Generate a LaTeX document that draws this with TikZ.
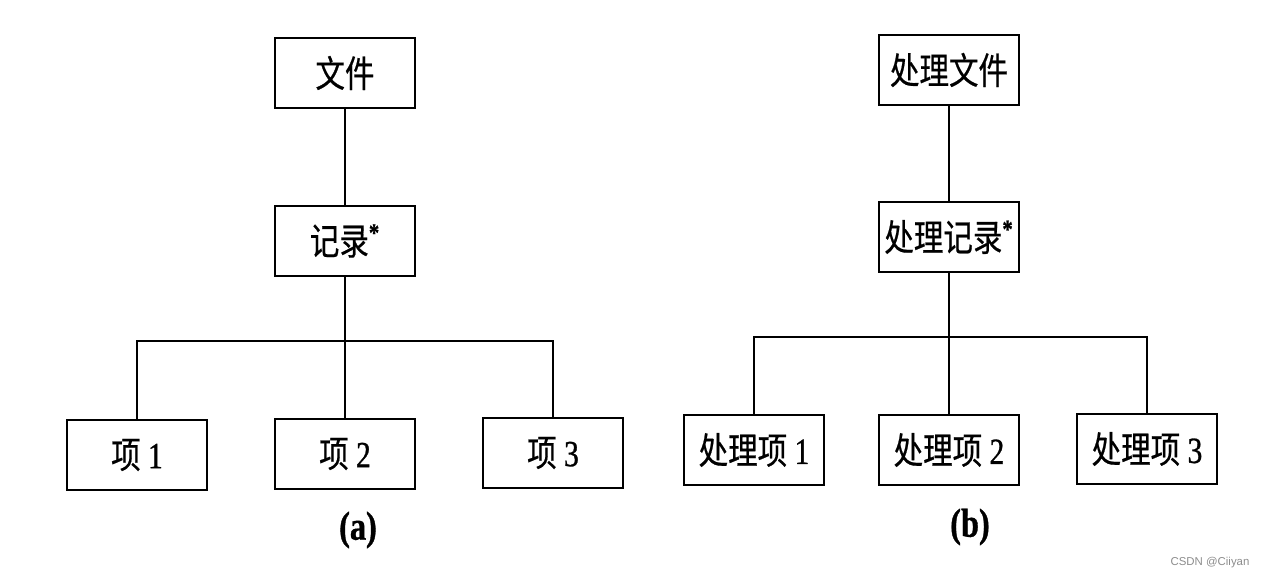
\documentclass[tikz,border=0pt]{standalone}
\usepackage{fontspec}
\setmainfont{Liberation Serif}
\setsansfont{Liberation Sans}
\newfontfamily\cjk[FakeStretch=0.8,FakeBold=0.5]{Noto Sans CJK SC}
\newfontfamily\numfont[FakeStretch=0.8,FakeBold=0.8]{Liberation Serif}
\begin{document}
\begin{tikzpicture}[x=0.02cm,y=-0.02cm,
  box/.style={draw,line width=1.5pt,minimum width=2.8cm,minimum height=1.4cm,
    inner sep=0pt,font=\fontsize{21}{21}\selectfont\numfont},
  link/.style={line width=1pt},
  caption/.style={font=\fontsize{23}{23}\selectfont\numfont\bfseries}]
 \useasboundingbox (0,0) rectangle (1261,580);
 % tree (a)
 \begin{scope}
  \node[box] (file) at (345,73) {\cjk 文件};
  \node[box] (rec) at (345,241) {{\cjk 记录}\textsuperscript{\bfseries *}};
  \node[box] (item1) at (137,455) {{\cjk 项} 1};
  \node[box] (item2) at (345,454) {{\cjk 项} 2};
  \node[box] (item3) at (553,453) {{\cjk 项} 3};
  \coordinate (busA) at (345,341);
  \draw[link] (file) -- (rec);
  \draw[link] (rec) -- (item2);
  \draw[link] (item1) -- (item1 |- busA) -- (item3 |- busA) -- (item3);
  \node[caption] (capA) at (358,530) {(a)};
 \end{scope}
 % tree (b)
 \begin{scope}
  \node[box] (pfile) at (949,70) {\cjk 处理文件};
  \node[box] (prec) at (949,237) {{\cjk 处理记录}\textsuperscript{\bfseries *}};
  \node[box] (pitem1) at (754,450) {{\cjk 处理项} 1};
  \node[box] (pitem2) at (949,450) {{\cjk 处理项} 2};
  \node[box] (pitem3) at (1147,449) {{\cjk 处理项} 3};
  \coordinate (busB) at (949,337);
  \draw[link] (pfile) -- (prec);
  \draw[link] (prec) -- (pitem2);
  \draw[link] (pitem1) -- (pitem1 |- busB) -- (pitem3 |- busB) -- (pitem3);
  \node[caption] (capB) at (970,527) {(b)};
 \end{scope}
 \node[text=black!45,font=\sffamily\fontsize{6.5}{6.5}\selectfont] (mark) at (1210,563) {CSDN @Ciiyan};
\end{tikzpicture}
\end{document}
